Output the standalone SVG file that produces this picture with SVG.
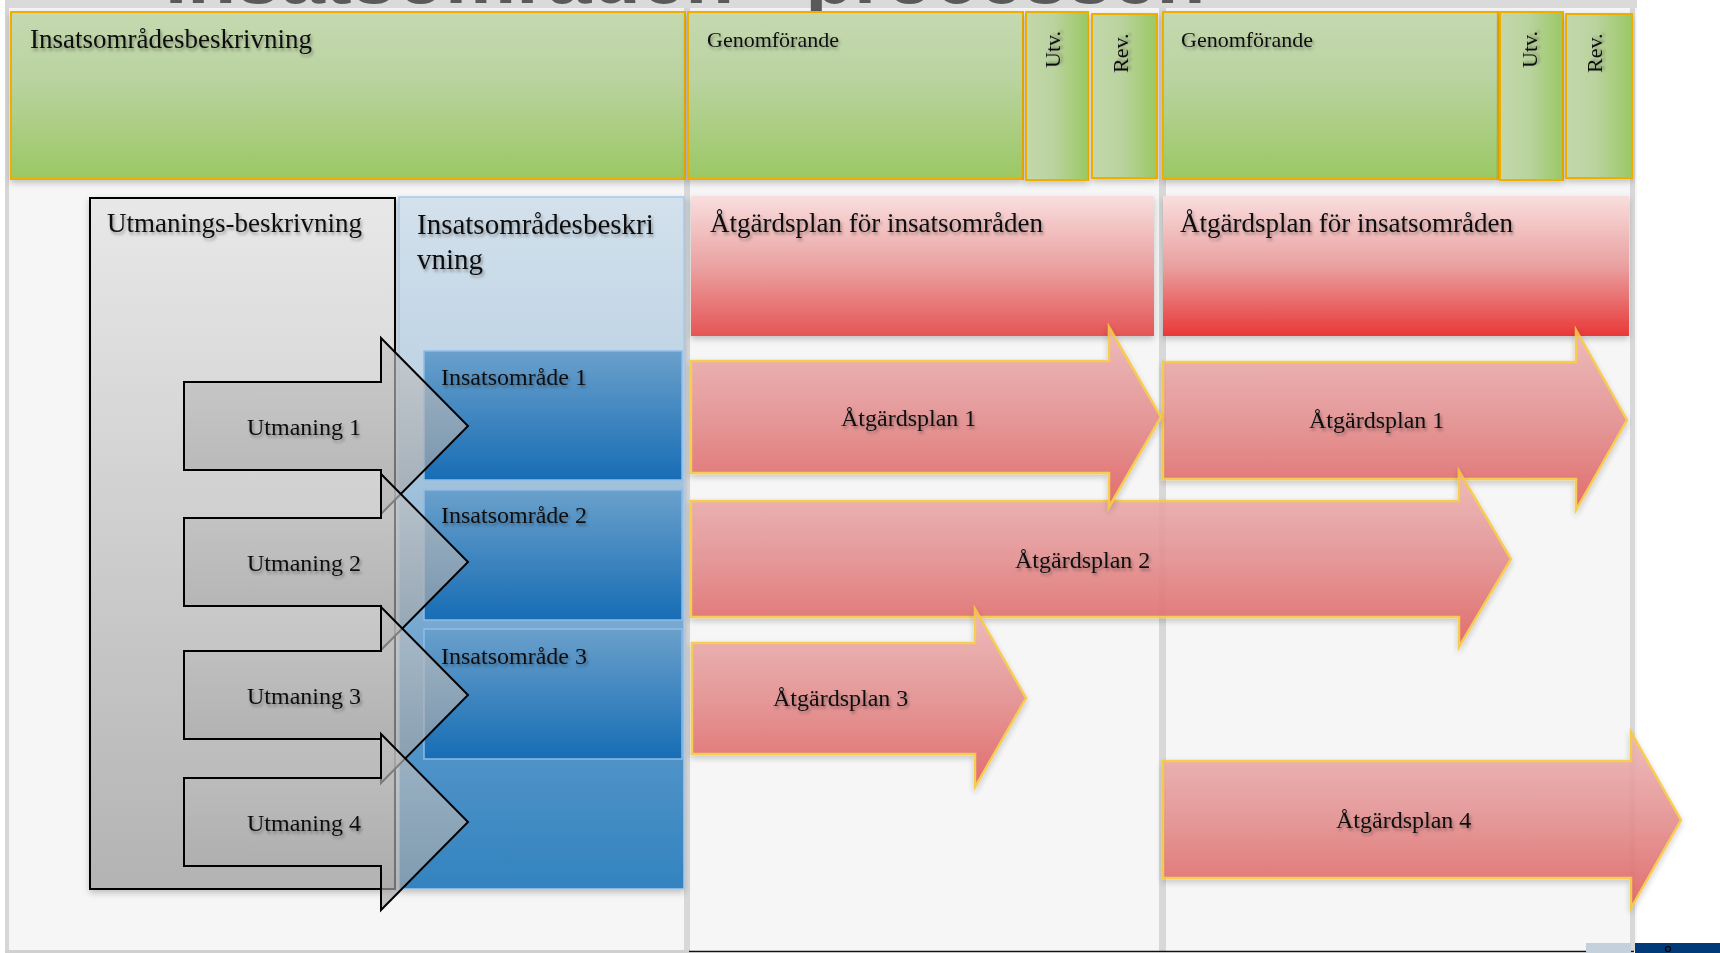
<svg xmlns="http://www.w3.org/2000/svg" width="1720" height="953" viewBox="0 0 1720 953">
<defs>
<style>
.t{font-family:"Liberation Serif","Times New Roman",serif;fill:#111;filter:url(#ts)}
.gbox{stroke:#eeae06;stroke-width:2}
.ra{stroke:#f7c843;stroke-width:2.5;stroke-linejoin:miter;opacity:0.9}
.ga{fill:url(#gArr);fill-opacity:0.66;stroke:#000;stroke-width:2}
.ib{fill:url(#gBlueIn);stroke:#8fbce6;stroke-width:1.5}
.sep{fill:#d8d8d8}
</style>
<filter id="ts" x="-10%" y="-30%" width="120%" height="170%"><feDropShadow dx="1.5" dy="2.5" stdDeviation="1.6" flood-color="#000" flood-opacity="0.35"/></filter>
<filter id="bs" x="-5%" y="-5%" width="110%" height="115%"><feDropShadow dx="0" dy="3" stdDeviation="3" flood-color="#000" flood-opacity="0.22"/></filter>
<linearGradient id="gGreen" x1="0" y1="0" x2="0" y2="1"><stop offset="0" stop-color="#c5d9b0"/><stop offset="0.4" stop-color="#bad3a0"/><stop offset="1" stop-color="#9bc863"/></linearGradient>
<linearGradient id="gGreenH" x1="0" y1="0" x2="1" y2="0"><stop offset="0" stop-color="#c3d7ab"/><stop offset="0.45" stop-color="#bad39f"/><stop offset="1" stop-color="#9bc863"/></linearGradient>
<linearGradient id="gRed1" x1="0" y1="0" x2="0" y2="1"><stop offset="0" stop-color="#f9dede"/><stop offset="0.5" stop-color="#eba2a2"/><stop offset="1" stop-color="#e55555"/></linearGradient>
<linearGradient id="gRed2" x1="0" y1="0" x2="0" y2="1"><stop offset="0" stop-color="#f9dede"/><stop offset="0.5" stop-color="#eaa0a0"/><stop offset="1" stop-color="#e83838"/></linearGradient>
<linearGradient id="gRedA" x1="0" y1="0" x2="0" y2="1"><stop offset="0" stop-color="#ecb6b6"/><stop offset="0.5" stop-color="#e48f8f"/><stop offset="1" stop-color="#e05f5f"/></linearGradient>
<linearGradient id="gGrey" x1="0" y1="0" x2="0" y2="1"><stop offset="0" stop-color="#e8e8e8"/><stop offset="1" stop-color="#b3b3b3"/></linearGradient>
<linearGradient id="gArr" x1="0" y1="0" x2="0" y2="1"><stop offset="0" stop-color="#c4c4c4"/><stop offset="1" stop-color="#a4a4a4"/></linearGradient>
<linearGradient id="gBlueOut" x1="0" y1="0" x2="0" y2="1"><stop offset="0" stop-color="#d3e1ec"/><stop offset="0.25" stop-color="#bfd4e5"/><stop offset="0.5" stop-color="#92b8d7"/><stop offset="0.75" stop-color="#5898ca"/><stop offset="1" stop-color="#3383c0"/></linearGradient>
<linearGradient id="gBlueIn" x1="0" y1="0" x2="0" y2="1"><stop offset="0" stop-color="#6aa0cb"/><stop offset="1" stop-color="#176db5"/></linearGradient>
</defs>

<!-- background panel -->
<rect x="0" y="0" width="1720" height="953" fill="#ffffff"/>
<rect x="5" y="0" width="1632" height="951" fill="#f6f6f6"/>
<rect x="5" y="0" width="1632" height="8" fill="#dadada"/>
<rect x="5" y="0" width="4" height="951" fill="#d6d6d6"/>
<rect class="sep" x="684" y="8" width="6" height="943"/>
<rect class="sep" x="1159" y="8" width="7" height="943"/>
<rect class="sep" x="1630" y="8" width="5" height="943"/>
<rect x="5" y="950" width="684" height="3" fill="#d0d0d0"/>
<line x1="689" y1="951.5" x2="1634" y2="951.5" stroke="#111" stroke-width="1.5"/>
<rect x="1586" y="943" width="45" height="10" fill="#c4d0dc"/>
<rect x="1635" y="943" width="85" height="10" fill="#003a78"/>
<circle cx="1668" cy="949" r="2.5" fill="none" stroke="#000" stroke-width="1.2"/>

<!-- cut-off title -->
<text x="165" y="3" font-family="'Liberation Sans',Arial,sans-serif" font-weight="bold" font-size="80" fill="#5a5a5a">Insatsområden - processen</text>

<!-- top green row -->
<g id="hdr-insatsbeskr">
<rect class="gbox" x="11" y="12" width="674" height="167" fill="url(#gGreen)" filter="url(#bs)"/>
<text class="t" x="30" y="48" font-size="27">Insatsområdesbeskrivning</text>
</g>
<g id="hdr-genomforande-1">
<rect class="gbox" x="688" y="12" width="335" height="167" fill="url(#gGreen)" filter="url(#bs)"/>
<text class="t" x="707" y="47" font-size="22">Genomförande</text>
</g>
<g id="hdr-utv-1">
<rect class="gbox" x="1026" y="12" width="62" height="168" fill="url(#gGreenH)" filter="url(#bs)"/>
<text class="t" transform="translate(1060,68) rotate(-90)" font-size="22">Utv.</text>
</g>
<g id="hdr-rev-1">
<rect class="gbox" x="1092" y="14" width="65" height="164" fill="url(#gGreenH)" filter="url(#bs)"/>
<text class="t" transform="translate(1128,73) rotate(-90)" font-size="22">Rev.</text>
</g>
<g id="hdr-genomforande-2">
<rect class="gbox" x="1163" y="12" width="335" height="167" fill="url(#gGreen)" filter="url(#bs)"/>
<text class="t" x="1181" y="47" font-size="22">Genomförande</text>
</g>
<g id="hdr-utv-2">
<rect class="gbox" x="1500" y="12" width="63" height="168" fill="url(#gGreenH)" filter="url(#bs)"/>
<text class="t" transform="translate(1537,68) rotate(-90)" font-size="22">Utv.</text>
</g>
<g id="hdr-rev-2">
<rect class="gbox" x="1566" y="14" width="66" height="164" fill="url(#gGreenH)" filter="url(#bs)"/>
<text class="t" transform="translate(1602,73) rotate(-90)" font-size="22">Rev.</text>
</g>

<!-- column 1 -->
<g id="utmaningsbeskrivning">
<rect x="90" y="198" width="305" height="691" fill="url(#gGrey)" stroke="#000" stroke-width="2" filter="url(#bs)"/>
<text class="t" x="107" y="232" font-size="27">Utmanings-beskrivning</text>
</g>
<g id="insatsbeskrivning">
<rect x="399" y="197" width="285" height="692" fill="url(#gBlueOut)" stroke="#a8c8e8" stroke-width="1.5" filter="url(#bs)"/>
<text class="t" x="417" y="234" font-size="29">Insatsområdesbeskri</text>
<text class="t" x="417" y="269" font-size="29">vning</text>
</g>
<g id="insatsomrade-1">
<rect class="ib" x="424" y="351" width="258" height="129"/>
<text class="t" x="441" y="385" font-size="24">Insatsområde 1</text>
</g>
<g id="insatsomrade-2">
<rect class="ib" x="424" y="490" width="258" height="130"/>
<text class="t" x="441" y="523" font-size="24">Insatsområde 2</text>
</g>
<g id="insatsomrade-3">
<rect class="ib" x="424" y="629" width="258" height="130"/>
<text class="t" x="441" y="664" font-size="24">Insatsområde 3</text>
</g>
<g id="utmaning-1">
<path class="ga" d="M184,382 H381 V338 L468,426 L381,514 V470 H184 Z"/>
<text class="t" x="247" y="435" font-size="24">Utmaning 1</text>
</g>
<g id="utmaning-2">
<path class="ga" d="M184,518 H381 V474 L468,562 L381,650 V606 H184 Z"/>
<text class="t" x="247" y="571" font-size="24">Utmaning 2</text>
</g>
<g id="utmaning-3">
<path class="ga" d="M184,651 H381 V607 L468,695 L381,783 V739 H184 Z"/>
<text class="t" x="247" y="704" font-size="24">Utmaning 3</text>
</g>
<g id="utmaning-4">
<path class="ga" d="M184,778 H381 V734 L468,822 L381,910 V866 H184 Z"/>
<text class="t" x="247" y="831" font-size="24">Utmaning 4</text>
</g>

<!-- columns 2 and 3 -->
<g id="atgardsplan-header-1">
<rect x="691" y="196" width="463" height="140" fill="url(#gRed1)" filter="url(#bs)"/>
<text class="t" x="710" y="232" font-size="27">Åtgärdsplan för insatsområden</text>
</g>
<g id="atgardsplan-header-2">
<rect x="1163" y="196" width="466" height="140" fill="url(#gRed2)" filter="url(#bs)"/>
<text class="t" x="1180" y="232" font-size="27">Åtgärdsplan för insatsområden</text>
</g>
<g id="atgardsplan-1b">
<path class="ra" fill="url(#gRedA)" filter="url(#bs)" d="M1163,362 H1576 V330 L1627,420 L1576,510 V479 H1163 Z"/>
<text class="t" x="1309" y="428" font-size="24">Åtgärdsplan 1</text>
</g>
<g id="atgardsplan-2">
<path class="ra" fill="url(#gRedA)" filter="url(#bs)" d="M691,501 H1459 V471 L1511,559 L1459,647 V617 H691 Z"/>
<text class="t" x="1015" y="568" font-size="24">Åtgärdsplan 2</text>
</g>
<g id="atgardsplan-1a">
<path class="ra" fill="url(#gRedA)" filter="url(#bs)" d="M691,361 H1109 V327 L1161,417 L1109,507 V473 H691 Z"/>
<text class="t" x="841" y="426" font-size="24">Åtgärdsplan 1</text>
</g>
<g id="atgardsplan-3">
<path class="ra" fill="url(#gRedA)" filter="url(#bs)" d="M692,643 H975 V609 L1026,698 L975,787 V754 H692 Z"/>
<text class="t" x="773" y="706" font-size="24">Åtgärdsplan 3</text>
</g>
<g id="atgardsplan-4">
<path class="ra" fill="url(#gRedA)" filter="url(#bs)" d="M1163,761 H1631 V732 L1681,820 L1631,908 V878 H1163 Z"/>
<text class="t" x="1336" y="828" font-size="24">Åtgärdsplan 4</text>
</g>

<g id="connectors"></g>
</svg>
